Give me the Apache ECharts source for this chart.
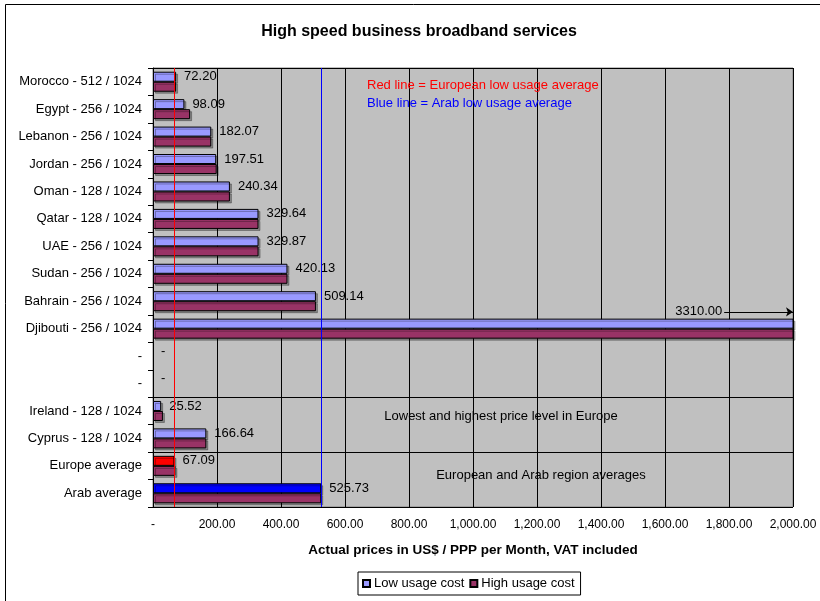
<!DOCTYPE html>
<html>
<head>
<meta charset="utf-8">
<title>High speed business broadband services</title>
<script src="https://cdn.jsdelivr.net/npm/echarts@6/dist/echarts.min.js"></script>
<style>
  html, body { margin: 0; padding: 0; background: #fff; }
  #chart { width: 820px; height: 601px; }
</style>
</head>
<body>
<div id="chart"></div>
<script>
// categories, top to bottom
const categories = [
  'Morocco - 512 / 1024', 'Egypt - 256 / 1024', 'Lebanon - 256 / 1024', 'Jordan - 256 / 1024',
  'Oman - 128 / 1024', 'Qatar - 128 / 1024', 'UAE - 256 / 1024', 'Sudan - 256 / 1024',
  'Bahrain - 256 / 1024', 'Djibouti - 256 / 1024', '-', '-',
  'Ireland - 128 / 1024', 'Cyprus - 128 / 1024', 'Europe average', 'Arab average'
];
const lowUsage = [72.20, 98.09, 182.07, 197.51, 240.34, 329.64, 329.87, 420.13, 509.14, 3310.00, 0, 0, 25.52, 166.64, 67.09, 525.73];
const highUsage = [72.20, 116, 182.07, 199, 240.34, 329.64, 329.87, 420.13, 509.14, 3310.00, 0, 0, 31, 166.64, 70, 525.73];
const seriesNames = ['Low usage cost', 'High usage cost'];
const xMin = 0, xMax = 2000, xStep = 200;
const notes = [
  'Red line = European low usage average',
  'Blue line = Arab low usage average',
  'Lowest and highest price level in Europe',
  'European and Arab region averages'
];

const FONT = "'Liberation Sans', Arial, sans-serif";
const europeIdx = categories.indexOf('Europe average');
const arabIdx = categories.indexOf('Arab average');
const offScaleIdx = lowUsage.findIndex(v => v > xMax);

function money(v) {
  if (v === 0) return '-';
  return v.toLocaleString('en-US', { minimumFractionDigits: 2, maximumFractionDigits: 2 });
}

const barStyle = {
  borderColor: '#000', borderWidth: 1,
  shadowColor: 'rgba(0,0,0,0.3)', shadowOffsetX: 2, shadowOffsetY: 2, shadowBlur: 0
};
// empty rows: no outline or shadow
const emptyBar = { borderWidth: 0, shadowColor: 'rgba(0,0,0,0)' };

const lowData = lowUsage.map((v, i) => {
  if (i === europeIdx) return { value: v, itemStyle: { color: '#FF0000' } };
  if (i === arabIdx) return { value: v, itemStyle: { color: '#0000FF' } };
  if (v === 0) return { value: v, itemStyle: emptyBar };
  return v;
});
const highData = highUsage.map(v => (v === 0 ? { value: v, itemStyle: emptyBar } : v));

const chart = echarts.init(document.getElementById('chart'));

chart.setOption({
  animation: false,
  textStyle: { fontFamily: FONT, color: '#000' },
  grid: {
    left: 153, right: 27, top: 68, bottom: 94,
    show: true, backgroundColor: '#C0C0C0', borderColor: '#808080', borderWidth: 1
  },
  legend: {
    data: seriesNames,
    left: 358, top: 572,
    itemWidth: 7, itemHeight: 7, itemGap: 5,
    padding: [5, 6, 5, 4],
    borderColor: '#000', borderWidth: 1,
    backgroundColor: '#fff',
    icon: 'rect',
    textStyle: { fontFamily: FONT, fontSize: 13, color: '#000', padding: [0, 0, 0, -1] }
  },
  xAxis: {
    type: 'value', min: xMin, max: xMax, interval: xStep,
    name: 'Actual prices in US$ / PPP per Month, VAT included',
    nameLocation: 'middle', nameGap: 36,
    nameTextStyle: { fontFamily: FONT, fontSize: 13.5, fontWeight: 'bold', color: '#000' },
    axisLine: { show: true, lineStyle: { color: '#000', width: 1 } },
    axisTick: { show: true, length: 5, lineStyle: { color: '#000' } },
    axisLabel: { fontFamily: FONT, fontSize: 12, color: '#000', margin: 12, formatter: money },
    splitLine: {
      show: true,
      interval: (idx, v) => v < xMax,
      lineStyle: { color: '#000', width: 1 }
    }
  },
  yAxis: [{
    type: 'category', data: categories, inverse: true,
    axisLine: { show: true, lineStyle: { color: '#000', width: 1 } },
    axisTick: { show: true, length: 5, lineStyle: { color: '#000' } },
    axisLabel: { fontFamily: FONT, fontSize: 13, color: '#000', margin: 11 },
    splitLine: {
      show: true,
      interval: (idx) => idx === 12 || idx === 14,
      lineStyle: { color: '#000', width: 1 }
    }
  }, {
    // helper scale over the same rows, used for the off-scale arrow
    type: 'value', min: 0, max: categories.length, inverse: true, show: false
  }],
  series: [{
    name: seriesNames[0],
    type: 'bar',
    data: lowData,
    barGap: '0%',
    barCategoryGap: '27%',
    itemStyle: Object.assign({ color: '#9999FF' }, barStyle),
    label: {
      show: true, position: 'right', distance: 8, offset: [0, 0],
      fontFamily: FONT, fontSize: 13, color: '#000',
      formatter: p => (p.value > xMax ? '' : money(p.value))
    },
    markLine: {
      silent: true, symbol: 'none', animation: false,
      label: { show: false },
      data: [
        { xAxis: lowUsage[europeIdx], lineStyle: { color: '#FF0000', width: 1, type: 'solid' } },
        { xAxis: lowUsage[arabIdx], lineStyle: { color: '#0000FF', width: 1, type: 'solid' } }
      ]
    }
  }, {
    name: seriesNames[1],
    type: 'bar',
    data: highData,
    barGap: '0%',
    barCategoryGap: '27%',
    itemStyle: Object.assign({ color: '#993366' }, barStyle)
  }, {
    // arrow marking the bar that runs past the axis end
    name: 'offscale',
    type: 'line',
    yAxisIndex: 1,
    data: [[xMax, offScaleIdx - 0.11]],
    symbol: 'none', silent: true,
    lineStyle: { opacity: 0 },
    markLine: {
      silent: true, animation: false,
      symbol: ['none', 'arrow'], symbolSize: 7,
      lineStyle: { color: '#000', width: 1, type: 'solid' },
      label: {
        show: true, position: 'start', distance: 2,
        fontFamily: FONT, fontSize: 13, color: '#000',
        formatter: () => lowUsage[offScaleIdx].toFixed(2)
      },
      data: [[
        { coord: [1785, offScaleIdx - 0.11] },
        { coord: [xMax, offScaleIdx - 0.11] }
      ]]
    }
  }],
  graphic: [
    { type: 'rect', shape: { x: 5.5, y: 4.5, width: 900, height: 700 }, style: { fill: 'none', stroke: '#000', lineWidth: 1 }, silent: true, z: -10 },
    { type: 'text', x: 419, y: 32, style: { text: 'High speed business broadband services', font: "bold 16px " + FONT, fill: '#000', align: 'center', verticalAlign: 'middle' } },
    { type: 'text', x: 367, y: 85, z: 100, style: { text: notes[0], font: "13px " + FONT, fill: '#FF0000', verticalAlign: 'middle' } },
    { type: 'text', x: 367, y: 103, z: 100, style: { text: notes[1], font: "13px " + FONT, fill: '#0000FF', verticalAlign: 'middle' } },
    { type: 'text', x: 501, y: 416, z: 100, style: { text: notes[2], font: "13px " + FONT, fill: '#000', align: 'center', verticalAlign: 'middle' } },
    { type: 'text', x: 541, y: 475, z: 100, style: { text: notes[3], font: "13px " + FONT, fill: '#000', align: 'center', verticalAlign: 'middle' } }
  ]
});
</script>
</body>
</html>
